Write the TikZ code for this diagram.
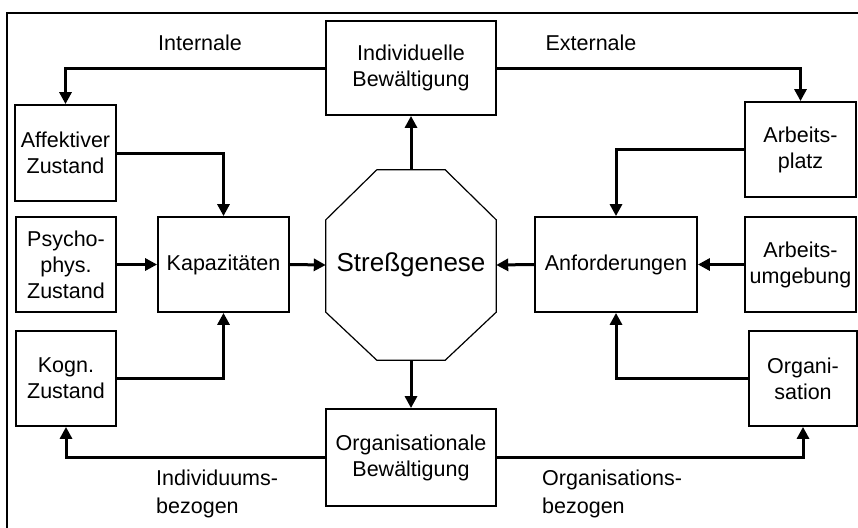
\documentclass[tikz,border=0pt]{standalone}
\usepackage{fontspec}
\setmainfont{Liberation Sans}
\usetikzlibrary{arrows.meta,calc}
\begin{document}
\begin{tikzpicture}[x=1pt,y=-1pt,
  box/.style={draw,line width=1.8pt,inner sep=0pt,align=center,
    font=\fontsize{21.5}{26}\selectfont},
  lbl/.style={inner sep=0pt,align=left,font=\fontsize{21.5}{28}\selectfont},
  flow/.style={line width=3pt,-{Triangle[length=12pt,width=12pt]}}]
\useasboundingbox (0,0) rectangle (858,527);
% outer frame
\draw[line width=1.6pt] (7,540) -- (7,13) -- (870,13);

% central node
\node[inner sep=0pt,minimum width=170pt,minimum height=190pt,
  font=\fontsize{26}{30}\selectfont] (stress) at (411,265) {Streßgenese};
\draw[line width=1.2pt]
  ($(stress.north west)+(51,0)$) -- ($(stress.north east)+(-51,0)$)
  -- ($(stress.north east)+(0,50)$) -- ($(stress.south east)+(0,-48)$)
  -- ($(stress.south east)+(-51,0)$) -- ($(stress.south west)+(51,0)$)
  -- ($(stress.south west)+(0,-48)$) -- ($(stress.north west)+(0,50)$) -- cycle;

% boxes
\node[box,minimum width=170pt,minimum height=94pt] (indiv) at (411,68) {Individuelle\\Bewältigung};
\node[box,minimum width=170pt,minimum height=97pt] (orgbew) at (411,457.5) {Organisationale\\Bewältigung};
\node[box,minimum width=101pt,minimum height=96pt] (affekt) at (65.5,153) {Affektiver\\Zustand};
\node[box,minimum width=100pt,minimum height=95pt] (psycho) at (66,264.5) {Psycho-\\phys.\\Zustand};
\node[box,minimum width=100pt,minimum height=95pt] (kogn) at (66,378.5) {Kogn.\\Zustand};
\node[box,minimum width=131pt,minimum height=95pt] (kap) at (223.5,264.5) {Kapazitäten};
\node[box,minimum width=162pt,minimum height=95pt] (anf) at (616,264.5) {Anforderungen};
\node[box,minimum width=111pt,minimum height=95pt] (aplatz) at (800.5,149.5) {Arbeits-\\platz};
\node[box,minimum width=111pt,minimum height=95pt] (aumg) at (800.5,264.5) {Arbeits-\\umgebung};
\node[box,minimum width=108pt,minimum height=95pt] (organ) at (803,378.5) {Organi-\\sation};

% labels
\node[lbl] (lint) at (200,43) {Internale};
\node[lbl] (lext) at (591,43) {Externale};
\node[lbl,anchor=west] (lind) at (156,494) {Individuums-\\bezogen};
\node[lbl,anchor=west] (lorg) at (542,494) {Organisations-\\bezogen};

% connectors
\draw[flow] (stress.north) -- (indiv.south);
\draw[flow] (stress.south) -- (orgbew.north);
\draw[flow] (indiv.west) -| (affekt.north);
\draw[flow] (indiv.east) -| (aplatz.north);
\draw[flow] (affekt.east) -| (kap.north);
\draw[flow] (psycho.east) -- (kap.west);
\draw[flow] (kogn.east) -| (kap.south);
\draw[flow] (kap.east) -- (stress.west);
\draw[flow] (aplatz.west) -| (anf.north);
\draw[flow] (aumg.west) -- (anf.east);
\draw[flow] (organ.west) -| (anf.south);
\draw[flow] (anf.west) -- (stress.east);
\draw[flow] (orgbew.west) -| (kogn.south);
\draw[flow] (orgbew.east) -| (organ.south);
\end{tikzpicture}
\end{document}
